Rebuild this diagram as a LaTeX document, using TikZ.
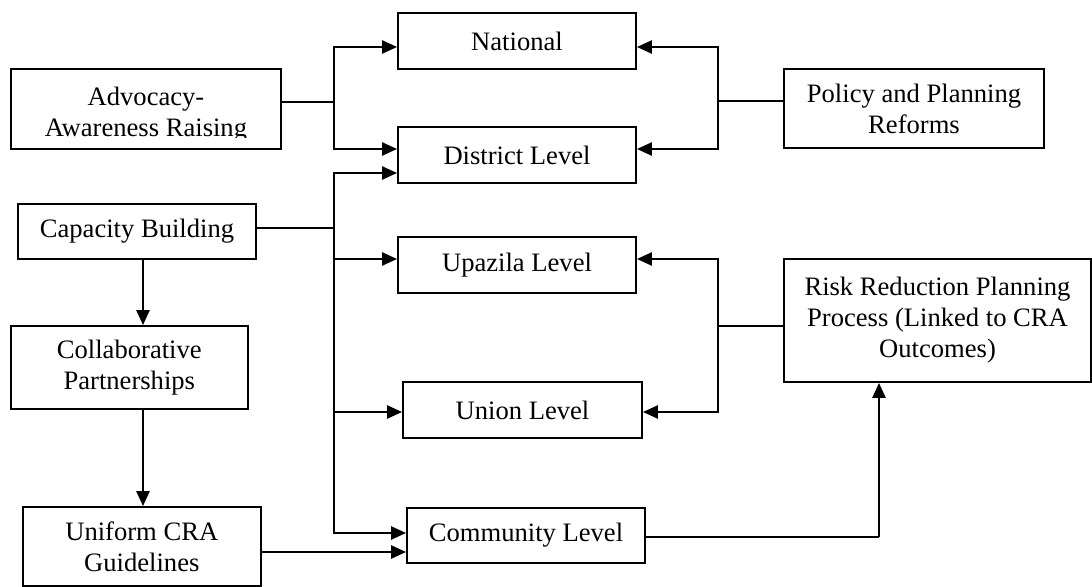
\documentclass[tikz,border=0pt]{standalone}
\usepackage{fontspec}
\setmainfont{Liberation Serif}
\usetikzlibrary{arrows.meta}
\begin{document}
\begin{tikzpicture}[x=0.5pt,y=-0.5pt,
  txt/.style={inner sep=0pt, align=center, font=\fontsize{13.3}{15.5}\selectfont},
  box/.style={draw, line width=0.9pt, rectangle, inner sep=0pt, align=center, font=\fontsize{13.3}{15.5}\selectfont},
  conn/.style={line width=0.75pt},
  arr/.style={line width=1.2pt, -{Triangle[length=7.5pt,width=6.5pt]}},
]
\useasboundingbox (0,0) rectangle (1092,587);

% boxes
\node[box, minimum width=135pt, minimum height=40pt] (adv) at (146,109) {};
\begin{scope}
  \clip (adv.north west) rectangle (adv.east |- 0,138);
  \node[txt] (advtext) at (146,114.3) {Advocacy-\\Awareness Raising};
\end{scope}
\node[box, minimum width=119pt, minimum height=28pt] (nat) at (517,41) {National};
\node[box, minimum width=119pt, minimum height=28pt] (dis) at (517,155) {District Level};
\node[box, minimum width=119pt, minimum height=28pt] (upa) at (517,265) {Upazila Level};
\node[box, minimum width=119.5pt, minimum height=28pt] (uni) at (522.5,410) {Union Level};
\node[box, minimum width=119pt, minimum height=27.5pt] (com) at (526,535.5) {Community Level};
\node[box, minimum width=130pt, minimum height=39.5pt] (pol) at (914,108.5) {Policy and Planning\\Reforms};
\node[box, minimum width=153.5pt, minimum height=61.5pt] (risk) at (937.5,320.5) {Risk Reduction Planning\\Process (Linked to CRA\\Outcomes)};
\node[box, minimum width=119pt, minimum height=27.5pt] (cap) at (137,231.5) {Capacity Building};
\node[box, minimum width=118.5pt, minimum height=41.5pt] (col) at (129.3,367.5) {Collaborative\\Partnerships};
\node[box, minimum width=119pt, minimum height=39.5pt] (unif) at (141.8,546.5) {Uniform CRA\\Guidelines};

% junction coordinates
\coordinate (jL) at (334,102);
\coordinate (jC) at (334,228);
\coordinate (jP) at (718,101);
\coordinate (jR) at (718,326);
\coordinate (jK) at (879,537);
\coordinate (vx) at (143,0);

% advocacy
\draw[conn] (adv.east |- jL) -- (jL);
\draw[arr] (jL) |- (nat.west |- 0,47);
\draw[arr] (jL) |- (dis.west |- 0,149);

% capacity building
\draw[conn] (cap.east |- jC) -- (jC);
\draw[arr] (jC) |- (dis.west |- 0,173);
\draw[arr] (jC) |- (upa.west |- 0,259);
\draw[arr] (jC) |- (uni.west |- 0,412);
\draw[arr] (jC) |- (com.west |- 0,533);

% policy
\draw[conn] (pol.west |- jP) -- (jP);
\draw[arr] (jP) |- (nat.east |- 0,47);
\draw[arr] (jP) |- (dis.east |- 0,149);

% risk reduction
\draw[conn] (risk.west |- jR) -- (jR);
\draw[arr] (jR) |- (upa.east |- 0,259);
\draw[arr] (jR) |- (uni.east |- 0,412);

% community to risk
\draw[conn] (com.east |- jK) -- (jK);
\draw[arr] (jK) -- (risk.south -| jK);

% left column
\draw[arr] (cap.south -| vx) -- (col.north -| vx);
\draw[arr] (col.south -| vx) -- (unif.north -| vx);
\draw[arr] (unif.east |- 0,552) -- (com.west |- 0,552);
\end{tikzpicture}
\end{document}
